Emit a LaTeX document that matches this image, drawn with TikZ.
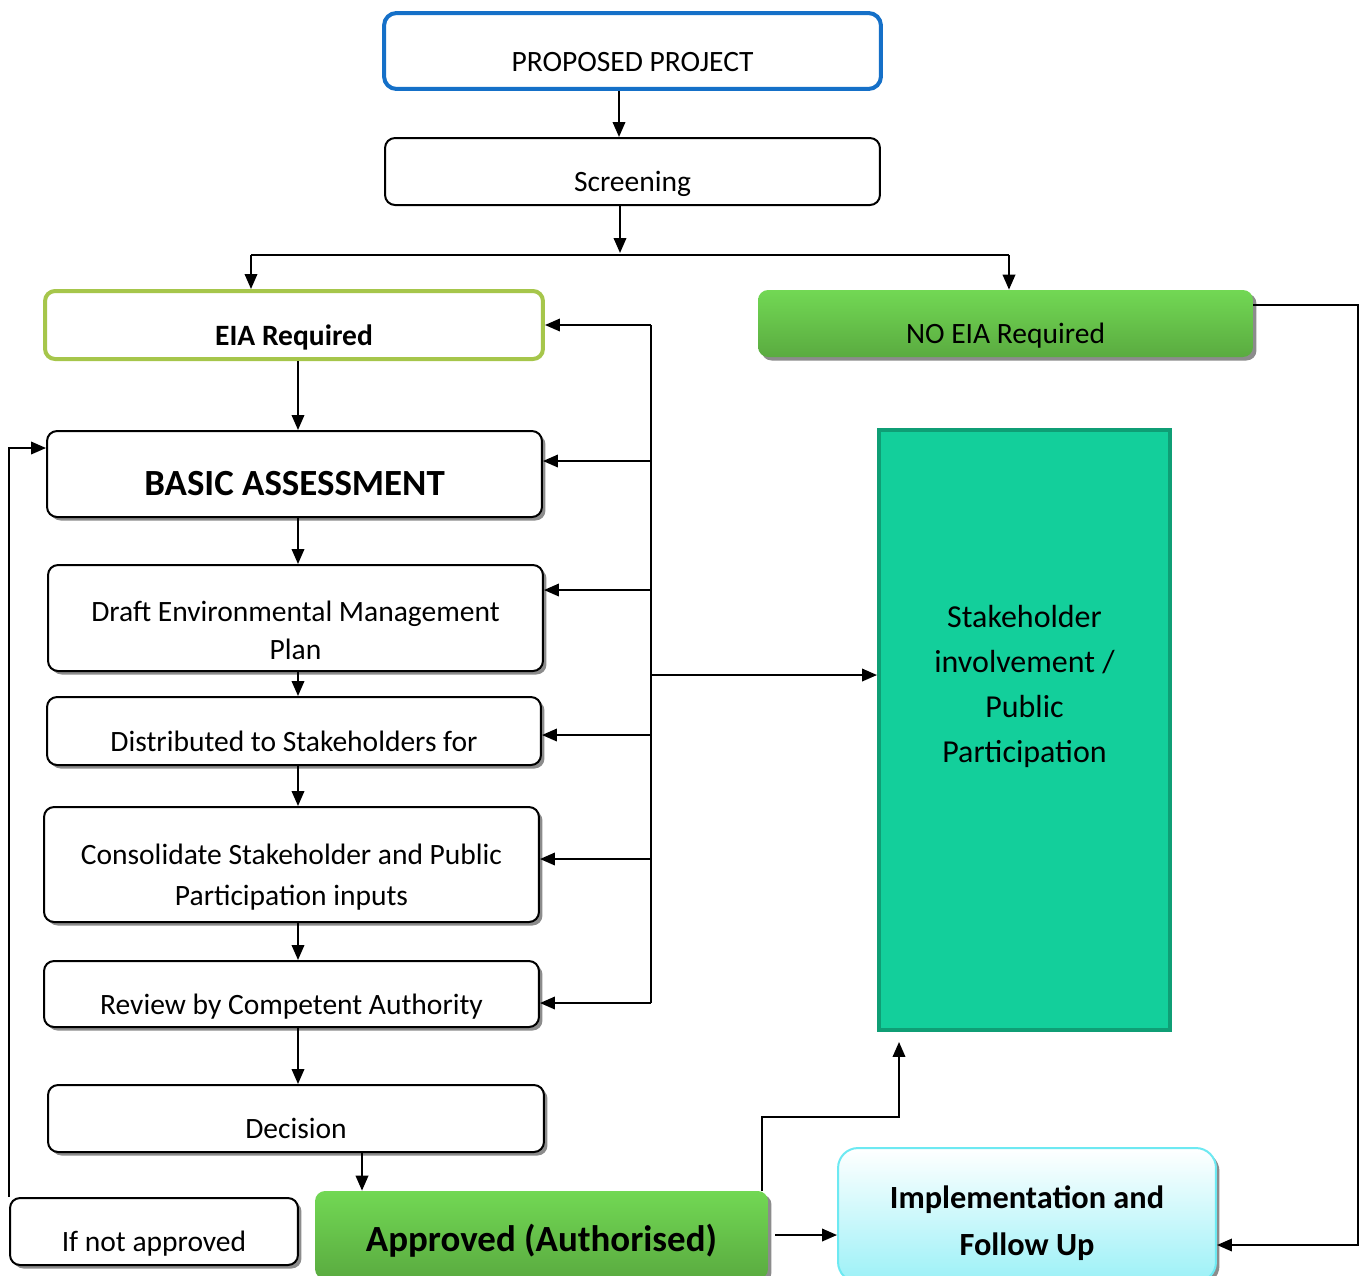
\documentclass[tikz,border=0pt]{standalone}
\usepackage{fontspec}
\setmainfont{Carlito}
\usepackage{tikz}
\usetikzlibrary{arrows.meta,positioning,shadows}
\definecolor{FlowBlue}{HTML}{1570C8}
\definecolor{FlowOlive}{HTML}{A6C64B}
\definecolor{FlowGreenTop}{HTML}{72D854}
\definecolor{FlowGreenBot}{HTML}{5AAB40}
\definecolor{FlowTeal}{HTML}{13CF9B}
\definecolor{FlowTealDark}{HTML}{0F9E75}
\definecolor{FlowCyan}{HTML}{6DE9F2}
\definecolor{FlowCyanPale}{HTML}{9CF1F7}

\begin{document}
\begin{tikzpicture}[x=0.02cm,y=-0.02cm,>={Triangle[length=0.3cm,width=0.25cm]},
  every node/.style={font=\fontsize{16.8}{21.6}\selectfont},
  flowbox/.style={draw=black,line width=0.04cm,rounded corners=0.2cm,fill=white,
    align=center,inner sep=2pt},
  shadowed/.style={drop shadow={shadow xshift=0.07cm,shadow yshift=-0.07cm,fill=black!45,opacity=1}},
  lowtext/.style={text height=23pt,text depth=0pt},
  greenbox/.style={rounded corners=0.2cm,top color=FlowGreenTop,bottom color=FlowGreenBot,
    align=center,inner sep=2pt},
  link/.style={line width=0.04cm}]
  \useasboundingbox (0,0) rectangle (1364,1275);
  \clip (0,0) rectangle (1364,1275);

  \node[flowbox,draw=FlowBlue,line width=0.08cm,rounded corners=0.25cm,lowtext,
    minimum width=9.94cm,minimum height=1.52cm] (proposed) at (632.5,51) {PROPOSED PROJECT};
  \node[flowbox,lowtext,minimum width=9.9cm,minimum height=1.34cm] (screening) at (632.5,171.5) {Screening};
  \node[flowbox,draw=FlowOlive,line width=0.08cm,lowtext,minimum width=9.96cm,minimum height=1.36cm,
    font=\fontsize{16.8}{20}\selectfont\bfseries] (eia) at (294,325) {EIA Required};
  \node[greenbox,shadowed,lowtext,minimum width=9.9cm,minimum height=1.34cm] (noeia) at (1005.5,323.5) {NO EIA Required};
  \node[flowbox,shadowed,text height=24pt,text depth=0pt,minimum width=9.9cm,minimum height=1.72cm,
    font=\fontsize{21}{25}\selectfont\bfseries] (basic) at (294.5,474) {BASIC ASSESSMENT};
  \node[flowbox,shadowed,minimum width=9.9cm,minimum height=2.12cm] (draft) at (295.5,618)
    {\rule{0pt}{26pt}Draft Environmental Management\\Plan};
  \node[flowbox,shadowed,lowtext,minimum width=9.88cm,minimum height=1.36cm] (distr) at (294,731) {Distributed to Stakeholders for};
  \node[flowbox,shadowed,minimum width=9.9cm,minimum height=2.3cm,
    font=\fontsize{16.8}{23.5}\selectfont] (consol) at (291.5,864.5) {\rule{0pt}{26pt}Consolidate Stakeholder and Public\\Participation inputs};
  \node[flowbox,shadowed,lowtext,minimum width=9.9cm,minimum height=1.32cm] (review) at (291.5,994) {Review by Competent Authority};
  \node[flowbox,shadowed,lowtext,minimum width=9.92cm,minimum height=1.34cm] (decision) at (296,1118.5) {Decision};
  \node[flowbox,shadowed,lowtext,minimum width=5.76cm,minimum height=1.34cm] (notappr) at (154,1231.5) {If not approved};
  \node[greenbox,shadowed,text height=19.3pt,text depth=0pt,minimum width=9.06cm,minimum height=1.76cm,
    font=\fontsize{21}{25}\selectfont\bfseries] (approved) at (541.5,1235) {Approved (Authorised)};
  \node[rounded corners=0.4cm,draw=FlowCyan,line width=0.04cm,top color=white,bottom color=FlowCyanPale,
    shadowed,align=center,minimum width=7.56cm,minimum height=2.68cm,
    font=\fontsize{18.4}{26.5}\selectfont\bfseries] (impl) at (1027,1215) {\rule{0pt}{22pt}Implementation and\\Follow Up};
  \node[draw=FlowTealDark,fill=FlowTeal,line width=0.08cm,align=center,minimum width=5.82cm,minimum height=12cm,
    font=\fontsize{18.2}{25.5}\selectfont] (stake) at (1024.5,730)
    {Stakeholder\\involvement /\\Public\\Participation\\[0.95cm]\mbox{}};

  \coordinate (colx) at (298,0);
  \coordinate (splitL) at (251,255);
  \coordinate (splitR) at (1009,255);
  \coordinate (busx) at (651,0);
  \coordinate (rightx) at (1358,0);
  \coordinate (decx) at (362,0);
  \coordinate (turn) at (762,1117);
  \coordinate (upx) at (899,0);
  \coordinate (inBasic) at ([yshift=0.26cm]basic.east);
  \coordinate (inDraft) at ([yshift=0.56cm]draft.east);
  \coordinate (inDistr) at ([yshift=-0.08cm]distr.east);
  \coordinate (inConsol) at ([yshift=0.11cm]consol.east);
  \coordinate (inReview) at ([yshift=-0.18cm]review.east);
  \coordinate (inStake) at ([yshift=1.1cm]stake.west);
  \coordinate (outNo) at ([yshift=0.37cm]noeia.east);
  \coordinate (inImpl) at ([yshift=-0.6cm]impl.east);
  \coordinate (inLoop) at ([yshift=0.52cm]basic.west);
  \coordinate (stakeIn) at ([yshift=-0.2cm]stake.south);

  \draw[->,link] ([xshift=-0.27cm]proposed.south) -- ([xshift=-0.27cm]screening.north);
  \draw[->,link] ([xshift=-0.25cm]screening.south) -- ([xshift=-0.25cm,yshift=0.04cm]screening.south |- splitL);
  \draw[link] (splitL) -- (splitR);
  \draw[->,link] (splitL) -- (splitL |- eia.north);
  \draw[->,link] (splitR) -- (splitR |- noeia.north);
  \draw[->,link] (eia.south -| colx) -- (basic.north -| colx);
  \draw[->,link] (basic.south -| colx) -- (draft.north -| colx);
  \draw[->,link] (draft.south -| colx) -- (distr.north -| colx);
  \draw[->,link] (distr.south -| colx) -- (consol.north -| colx);
  \draw[->,link] (consol.south -| colx) -- (review.north -| colx);
  \draw[->,link] (review.south -| colx) -- (decision.north -| colx);
  \draw[->,link] (decision.south -| decx) -- (approved.north -| decx);
  \draw[->,link] (notappr.north west) |- (inLoop);
  \draw[link] (busx |- eia.east) -- (busx |- inReview);
  \draw[->,link] (busx |- eia.east) -- (eia.east);
  \draw[->,link] (busx |- inBasic) -- (inBasic);
  \draw[->,link] (busx |- inDraft) -- (inDraft);
  \draw[->,link] (busx |- inDistr) -- (inDistr);
  \draw[->,link] (busx |- inConsol) -- (inConsol);
  \draw[->,link] (busx |- inReview) -- (inReview);
  \draw[->,link] (busx |- inStake) -- (inStake);
  \draw[->,link] (outNo) -| (rightx |- inImpl) -- (inImpl);
  \draw[->,link] ([xshift=0.14cm]approved.east) -- (approved.east -| impl.west);
  \draw[->,link] (approved.north -| turn) -- (turn) -- (upx |- turn) -- (upx |- stakeIn);
\end{tikzpicture}
\end{document}
